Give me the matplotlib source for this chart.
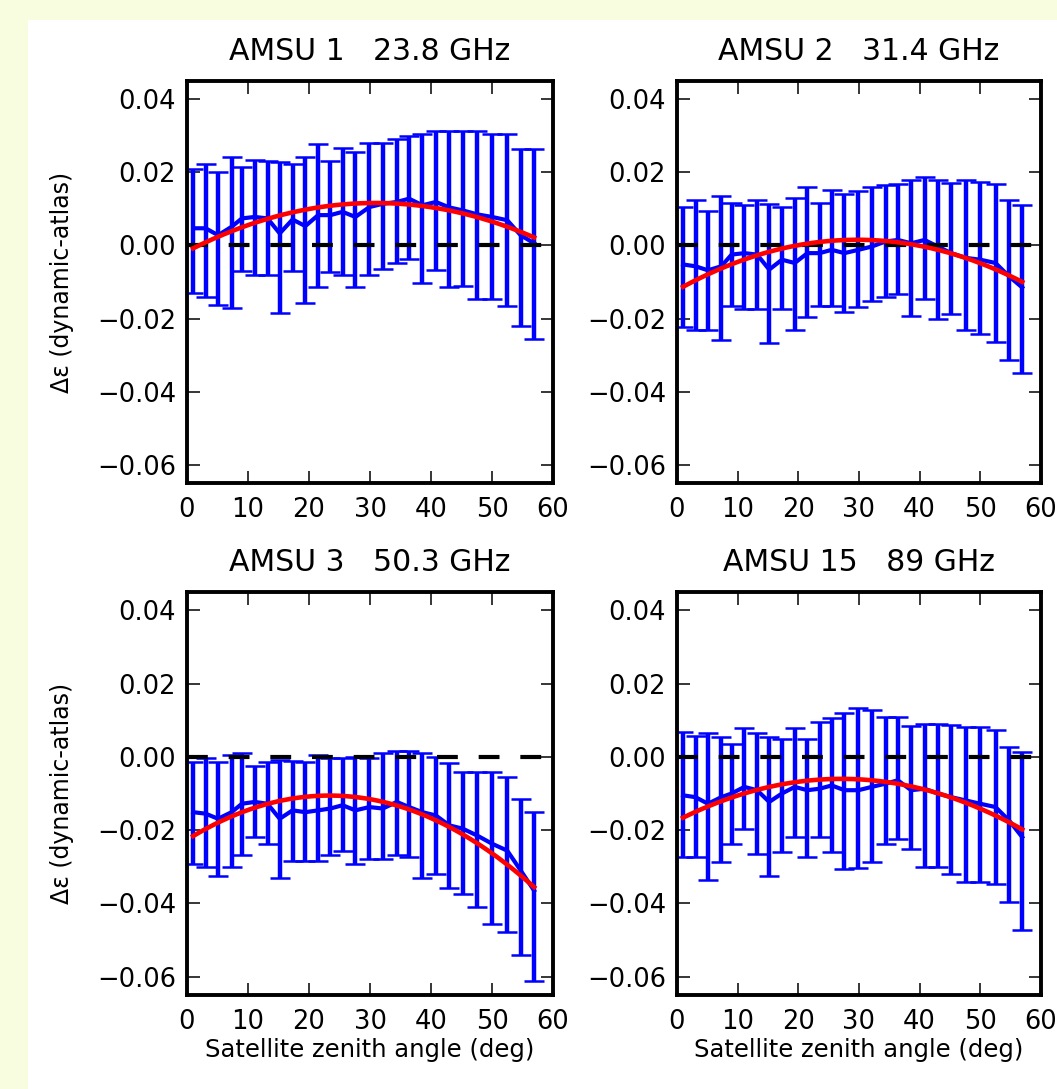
import matplotlib
matplotlib.use("Agg")
import matplotlib.pyplot as plt
import numpy as np
from matplotlib.patches import Rectangle

# ---------------- data ----------------
zenith = [1.0, 3.05, 5.1, 7.3, 9.0, 11.1, 13.2, 15.2, 17.3, 19.4, 21.5, 23.5, 25.5, 27.6,
          29.9, 32.1, 34.4, 36.4, 38.6, 40.8, 43.0, 45.2, 47.6, 50.0, 52.5, 54.7, 56.9]

titles = ["AMSU 1   23.8 GHz", "AMSU 2   31.4 GHz", "AMSU 3   50.3 GHz", "AMSU 15   89 GHz"]

mean1 = [0.0047, 0.0047, 0.0028, 0.0051, 0.0074, 0.0078, 0.0074, 0.0033, 0.0071, 0.0053, 0.0083,
         0.0083, 0.0092, 0.0078, 0.0105, 0.0114, 0.0119, 0.0128, 0.0110, 0.0119, 0.0104, 0.0096,
         0.0085, 0.0078, 0.0069, 0.0028, 0.0006]
upper1 = [0.021, 0.0222, 0.020, 0.0243, 0.0216, 0.0234, 0.0232, 0.0228, 0.0222, 0.0243, 0.0277,
          0.023, 0.0266, 0.0257, 0.0279, 0.0281, 0.029, 0.030, 0.0306, 0.0313, 0.0313, 0.0313,
          0.0313, 0.0306, 0.0304, 0.0263, 0.0263]
lower1 = [-0.0131, -0.014, -0.0163, -0.0172, -0.007, -0.0082, -0.0082, -0.0185, -0.007, -0.0158,
          -0.0113, -0.0073, -0.008, -0.0113, -0.0082, -0.0064, -0.0048, -0.0037, -0.0104, -0.0068,
          -0.0113, -0.011, -0.0147, -0.0147, -0.0167, -0.022, -0.0257]
fitx1 = [1.0, 13.3, 30.0, 46.3, 57.0]
fity1 = [-0.001, 0.0078, 0.0113, 0.0083, 0.0022]

mean2 = [-0.0052, -0.0057, -0.0068, -0.0057, -0.0025, -0.0021, -0.0025, -0.0066, -0.0039, -0.0048,
         -0.0021, -0.0021, -0.0012, -0.0021, -0.0012, -0.0003, 0.0011, 0.0015, 0.0006, 0.0015,
         -0.0003, -0.0021, -0.0034, -0.0039, -0.0048, -0.0084, -0.0115]
upper2 = [0.0105, 0.0124, 0.0093, 0.0135, 0.0117, 0.0111, 0.0124, 0.0114, 0.0105, 0.0129, 0.016,
          0.0117, 0.0153, 0.014, 0.015, 0.016, 0.0165, 0.0168, 0.018, 0.0186, 0.0178, 0.0171,
          0.0178, 0.0174, 0.0168, 0.0124, 0.0111]
lower2 = [-0.0223, -0.0232, -0.0232, -0.026, -0.0165, -0.0174, -0.0174, -0.0266, -0.0174, -0.0232,
          -0.0196, -0.0165, -0.0165, -0.0183, -0.0169, -0.0151, -0.0142, -0.0133, -0.0192, -0.0147,
          -0.0201, -0.0187, -0.0232, -0.0241, -0.0264, -0.0313, -0.035]
fitx2 = [1.0, 12.5, 30.0, 45.5, 57.0]
fity2 = [-0.0113, -0.003, 0.0013, -0.002, -0.0102]

mean3 = [-0.0151, -0.0155, -0.0169, -0.0151, -0.0128, -0.0123, -0.0128, -0.0169, -0.0146, -0.0151,
         -0.0146, -0.0141, -0.0132, -0.0146, -0.0137, -0.0141, -0.0123, -0.0137, -0.0151, -0.016,
         -0.0187, -0.0196, -0.0215, -0.0237, -0.0256, -0.031, -0.0365]
upper3 = [-0.0013, -0.0004, -0.0015, 0.0005, 0.001, -0.0025, -0.0013, -0.0008, -0.001, -0.0015,
          0.0005, -0.0004, -0.0004, 0.0, -0.0004, 0.001, 0.0015, 0.0015, 0.001, 0.0, -0.0017,
          -0.004, -0.0042, -0.004, -0.0054, -0.0114, -0.015]
lower3 = [-0.0292, -0.03, -0.0324, -0.03, -0.0269, -0.0219, -0.0237, -0.033, -0.0285, -0.0285,
          -0.0285, -0.0269, -0.0256, -0.0292, -0.0278, -0.028, -0.0269, -0.0272, -0.033, -0.032,
          -0.0358, -0.0374, -0.0409, -0.0455, -0.0477, -0.054, -0.0612]
fitx3 = [1.0, 12.5, 23.7, 36.9, 45.1, 56.9]
fity3 = [-0.0213, -0.0137, -0.0108, -0.0137, -0.0215, -0.0356]

mean4 = [-0.0105, -0.011, -0.0128, -0.011, -0.01, -0.0082, -0.0091, -0.0123, -0.01, -0.0082,
         -0.0091, -0.0087, -0.0078, -0.0091, -0.0091, -0.0082, -0.0073, -0.0064, -0.0091, -0.0087,
         -0.01, -0.011, -0.0119, -0.0128, -0.0137, -0.0173, -0.0219]
upper4 = [0.0068, 0.0058, 0.0066, 0.0055, 0.0035, 0.0078, 0.0066, 0.0055, 0.0048, 0.0078, 0.005,
          0.0096, 0.0105, 0.012, 0.0133, 0.0128, 0.0108, 0.011, 0.0084, 0.009, 0.009, 0.0087,
          0.0082, 0.0082, 0.0073, 0.0027, 0.0014]
lower4 = [-0.0272, -0.0272, -0.0336, -0.0288, -0.0237, -0.0196, -0.0265, -0.0324, -0.026, -0.0219,
          -0.0274, -0.0219, -0.026, -0.0306, -0.0303, -0.0288, -0.0237, -0.0224, -0.0251, -0.03,
          -0.03, -0.032, -0.0342, -0.0342, -0.0347, -0.0397, -0.0473]
fitx4 = [1.0, 12.5, 26.0, 45.5, 56.8]
fity4 = [-0.0164, -0.0095, -0.0064, -0.0105, -0.0201]

xticks = [0, 10, 20, 30, 40, 50, 60]
yticks = [-0.06, -0.04, -0.02, 0.00, 0.02, 0.04]
xlabel = "Satellite zenith angle (deg)"
ylabel = "Δε (dynamic-atlas)"

panels = [
    (mean1, upper1, lower1, fitx1, fity1),
    (mean2, upper2, lower2, fitx2, fity2),
    (mean3, upper3, lower3, fitx3, fity3),
    (mean4, upper4, lower4, fitx4, fity4),
]

# ---------------- figure ----------------
plt.rcParams["font.family"] = ["DejaVu Sans"]
plt.rcParams["lines.scale_dashes"] = False

W, H = 1057, 1089
fig = plt.figure(figsize=(W / 100, H / 100), dpi=100, facecolor="#f9fde0")
bg = Rectangle((28 / W, 0), 1 - 28 / W, 1 - 20 / H, transform=fig.transFigure,
               facecolor="white", edgecolor="none", zorder=-10)
fig.add_artist(bg)

lefts = [187, 677]
widths = [366, 364]
tops = [81, 592]
heights = [402, 403]

for i, (mean, upper, lower, fx, fy) in enumerate(panels):
    r, c = divmod(i, 2)
    ax = fig.add_axes([lefts[c] / W, 1 - (tops[r] + heights[r]) / H, widths[c] / W, heights[r] / H])
    x = np.array(zenith)
    m = np.array(mean)
    yerr = [m - np.array(lower), np.array(upper) - m]
    ax.errorbar(x, m, yerr=yerr, color="#0000ff", lw=3.0, elinewidth=3.2, capsize=7.5,
                capthick=1.8, zorder=2)
    ax.plot([0, 60], [0, 0], color="black", lw=3, dashes=(15, 15), zorder=3)
    coef = np.polyfit(fx, fy, 2)
    xs = np.linspace(x[0], x[-1], 200)
    ax.plot(xs, np.polyval(coef, xs), color="#ff0000", lw=3.3, zorder=4)

    ax.set_xlim(0, 60)
    ax.set_ylim(-0.065, 0.045)
    ax.set_xticks(xticks)
    ax.set_yticks(yticks)
    ax.set_yticklabels([f"{v:.2f}".replace("-", "\u2212") for v in yticks])
    ax.tick_params(direction="in", top=True, right=True, length=9, width=1.1, labelsize=18.5)
    ax.tick_params(axis="x", pad=10)
    ax.tick_params(axis="y", pad=8)
    for sp in ax.spines.values():
        sp.set_linewidth(2.8)
    ax.set_title(titles[i], fontsize=21.5, pad=15)
    if c == 0:
        ax.set_ylabel(ylabel, fontsize=17)
        ax.yaxis.set_label_coords(-0.31, 0.5)
    if r == 1:
        ax.set_xlabel(xlabel, fontsize=17.5, labelpad=2)

fig.savefig("out.png", dpi=100, facecolor=fig.get_facecolor())
